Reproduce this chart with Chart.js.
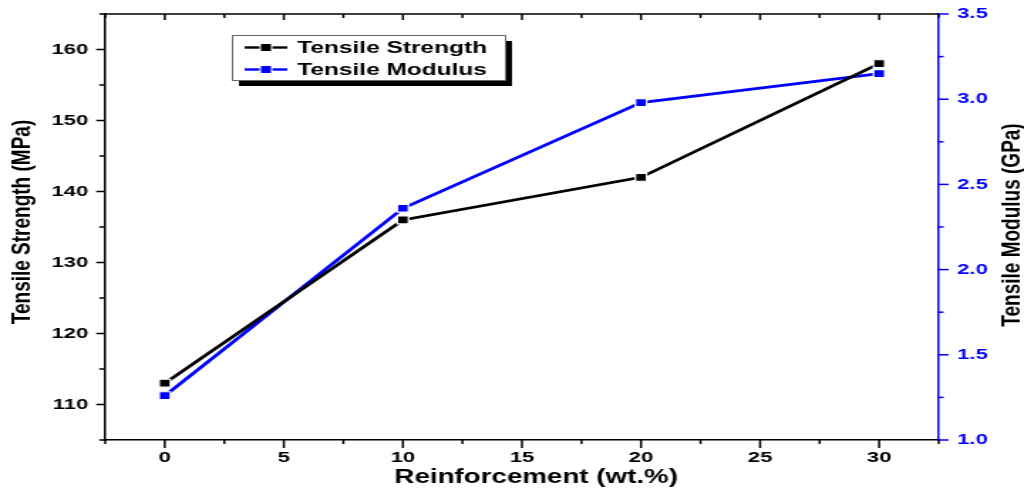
<!DOCTYPE html>
<html>
<head>
<meta charset="utf-8">
<script src="https://cdn.jsdelivr.net/npm/chart.js@4.4.1/dist/chart.umd.min.js"></script>
<style>
  html, body { margin: 0; padding: 0; background: #fff; }
  #chart { display: block; }
</style>
</head>
<body>
<!-- the reference is stretched sideways, so draw narrow and widen it with inline css -->
<canvas id="chart" width="720" height="492" style="width:1024px;height:492px"></canvas>
<script>
const reinforcement = [0, 10, 20, 30];
const tensileStrength = [113, 136, 142, 158];
const tensileModulus = [1.26, 2.36, 2.98, 3.15];

const xMajor = [0, 5, 10, 15, 20, 25, 30];
const xMinor = [-2.5, 2.5, 7.5, 12.5, 17.5, 22.5, 27.5, 32.5];
const strengthMajor = [110, 120, 130, 140, 150, 160];
const strengthMinor = [105, 115, 125, 135, 145, 155, 165];
const modulusMajor = [1.0, 1.5, 2.0, 2.5, 3.0, 3.5];
const modulusMinor = [1.25, 1.75, 2.25, 2.75, 3.25];

const BLUE = "#0000ff";
const FAMILY = '"Liberation Sans", Arial, sans-serif';

function setTicks(major, minor) {
  return (scale) => {
    scale.ticks = major.concat(minor).sort((a, b) => a - b).map((v) => ({ value: v }));
  };
}

function majorLabel(major, digits) {
  return (value) => (major.includes(value) ? value.toFixed(digits) : "");
}

// fixed scale box size, and no extra room for half-labels at the ends
function fixSize(prop, size) {
  return (s) => {
    s[prop] = size;
    s.paddingTop = s.paddingBottom = s.paddingLeft = s.paddingRight = 0;
  };
}

function line(ctx, x1, y1, x2, y2) {
  ctx.beginPath();
  ctx.moveTo(x1, y1);
  ctx.lineTo(x2, y2);
  ctx.stroke();
}

function title(ctx, text, x, y, rot, size) {
  ctx.save();
  ctx.translate(x, y);
  ctx.rotate(rot);
  ctx.fillStyle = "#000";
  ctx.font = "bold " + size + "px " + FAMILY;
  ctx.textAlign = "center";
  ctx.textBaseline = "middle";
  ctx.fillText(text, 0, 0);
  ctx.restore();
}

// tick marks: outward on left/right/bottom, inward on top; plus axis titles
const tickMarks = {
  id: "tickMarks",
  afterDraw(chart) {
    const { ctx, chartArea: a, scales } = chart;
    ctx.save();
    ctx.lineWidth = 1.5;
    ctx.strokeStyle = "#000";
    line(ctx, a.left, a.top, a.right, a.top);
    xMajor.concat(xMinor).forEach((v) => {
      const x = scales.x.getPixelForValue(v);
      const big = xMajor.includes(v);
      line(ctx, x, a.bottom, x, a.bottom + (big ? 8 : 4));
      line(ctx, x, a.top, x, a.top + (big ? 6 : 4));
    });
    strengthMajor.concat(strengthMinor).forEach((v) => {
      const y = scales.y.getPixelForValue(v);
      const len = strengthMajor.includes(v) ? 6.3 : 4.2;
      line(ctx, a.left - len, y, a.left, y);
    });
    ctx.strokeStyle = BLUE;
    modulusMajor.concat(modulusMinor).forEach((v) => {
      const y = scales.y2.getPixelForValue(v);
      const len = modulusMajor.includes(v) ? 7 : 3.5;
      line(ctx, a.right, y, a.right + len, y);
    });
    ctx.restore();

    const midY = (a.top + a.bottom) / 2;
    title(ctx, "Tensile Strength (MPa)", 16, midY - 5, -Math.PI / 2, 19);
    title(ctx, "Tensile Modulus (GPa)", 711.6, midY - 2, -Math.PI / 2, 19);
    title(ctx, "Reinforcement (wt.%)", 377, 477.5, 0, 19.5);
  },
};

// legend in a box with a black drop shadow
const boxedLegend = {
  id: "boxedLegend",
  afterDraw(chart) {
    const ctx = chart.ctx;
    const x = 163, y = 35, w = 192, h = 45;
    ctx.save();
    ctx.fillStyle = "#000";
    ctx.fillRect(x + 5, y + 6, w, h);
    ctx.fillStyle = "#fff";
    ctx.fillRect(x, y, w, h);
    ctx.strokeStyle = "#666";
    ctx.lineWidth = 1;
    ctx.strokeRect(x + 0.5, y + 0.5, w, h);
    ctx.font = "bold 17.2px " + FAMILY;
    ctx.textBaseline = "middle";
    chart.data.datasets.forEach((ds, i) => {
      const cy = y + 12.5 + i * 22;
      ctx.strokeStyle = ds.borderColor;
      ctx.lineWidth = 2.4;
      line(ctx, 172, cy, 202, cy);
      ctx.fillStyle = "#fff";
      ctx.fillRect(182.5, cy - 4.5, 9, 9);
      ctx.fillStyle = ds.borderColor;
      ctx.fillRect(183.5, cy - 3.5, 7, 7);
      ctx.fillStyle = "#000";
      ctx.fillText(ds.label, 209, cy + 1);
    });
    ctx.restore();
  },
};

new Chart(document.getElementById("chart"), {
  type: "line",
  data: {
    datasets: [
      {
        label: "Tensile Strength",
        data: reinforcement.map((x, i) => ({ x: x, y: tensileStrength[i] })),
        borderColor: "#000",
        backgroundColor: "#000",
        borderWidth: 2.8,
        pointStyle: "rect",
        pointRadius: 5.6,
        pointBorderColor: "#fff",
        pointBorderWidth: 1.2,
        yAxisID: "y",
      },
      {
        label: "Tensile Modulus",
        data: reinforcement.map((x, i) => ({ x: x, y: tensileModulus[i] })),
        borderColor: BLUE,
        backgroundColor: BLUE,
        borderWidth: 2.8,
        pointStyle: "rect",
        pointRadius: 5.6,
        pointBorderColor: "#fff",
        pointBorderWidth: 1.2,
        yAxisID: "y2",
      },
    ],
  },
  options: {
    responsive: false,
    devicePixelRatio: 1,
    animation: false,
    layout: { padding: { top: 14, left: 0, right: 0, bottom: 0 } },
    plugins: { legend: { display: false }, tooltip: { enabled: false } },
    scales: {
      x: {
        type: "linear",
        min: -2.5,
        max: 32.5,
        afterBuildTicks: setTicks(xMajor, xMinor),
        afterFit: fixSize("height", 52),
        grid: { display: false, drawTicks: false },
        border: { display: true, color: "#000", width: 1.5 },
        ticks: {
          autoSkip: false,
          maxRotation: 0,
          padding: 8,
          color: "#000",
          font: { family: FAMILY, size: 15.5, weight: "bold" },
          callback: majorLabel(xMajor, 0),
        },
      },
      y: {
        position: "left",
        min: 105,
        max: 165,
        afterBuildTicks: setTicks(strengthMajor, strengthMinor),
        afterFit: fixSize("width", 74),
        grid: { display: false, drawTicks: false },
        border: { display: true, color: "#000", width: 1.5 },
        ticks: {
          autoSkip: false,
          padding: 12,
          color: "#000",
          font: { family: FAMILY, size: 15.5, weight: "bold" },
          callback: majorLabel(strengthMajor, 0),
        },
      },
      y2: {
        position: "right",
        min: 1.0,
        max: 3.5,
        afterBuildTicks: setTicks(modulusMajor, modulusMinor),
        afterFit: fixSize("width", 60),
        grid: { display: false, drawTicks: false },
        border: { display: true, color: BLUE, width: 1.5 },
        ticks: {
          autoSkip: false,
          padding: 13,
          color: BLUE,
          font: { family: FAMILY, size: 15.5, weight: "bold" },
          callback: majorLabel(modulusMajor, 1),
        },
      },
    },
  },
  plugins: [tickMarks, boxedLegend],
});
</script>
</body>
</html>
